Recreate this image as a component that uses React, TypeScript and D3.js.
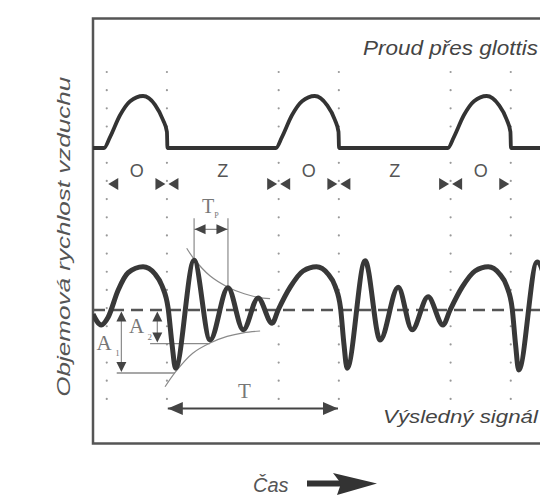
import React from 'react';
import * as d3 from 'd3';

// time in ms (one glottal period = 10 ms), amplitudes in relative units

// upper trace: air flow through the glottis
const glottalFlow: [number, number][] = [
  [-0.8, 0], [-0.16, 0], [0.19, 0.21], [0.77, 0.63], [1.36, 0.9], [2.11, 1], [2.81, 0.83], [3.27, 0.54], [3.5, 0.31], [3.53, 0],
  [9.84, 0], [10.19, 0.21], [10.77, 0.63], [11.36, 0.9], [12.1, 1], [12.8, 0.83], [13.27, 0.54], [13.48, 0.31], [13.51, 0],
  [19.84, 0], [20.19, 0.21], [20.77, 0.63], [21.36, 0.9], [22.1, 1], [22.8, 0.83], [23.27, 0.54], [23.48, 0.31], [23.51, 0],
  [25.6, 0],
];

// lower trace: resulting signal
const outputSignal: [number, number][] = [
  [-0.8, -0.07], [-0.32, -0.25], [0.08, -0.12], [0.66, 0.33], [1.24, 0.62], [2.11, 0.72], [2.81, 0.6], [3.22, 0.4],
  [3.57, 0.03], [3.8, -0.58], [4.0, -0.97], [5.08, 0.83], [6.01, -0.5], [7.05, 0.37], [7.94, -0.33], [8.8, 0.2],
  [9.62, -0.22], [9.97, 0], [10.67, 0.38], [11.42, 0.65], [12.2, 0.72], [12.87, 0.6], [13.28, 0.4], [13.6, 0.03],
  [13.8, -0.58], [13.98, -0.97], [15.03, 0.82], [15.9, -0.5], [16.95, 0.38], [17.76, -0.33], [18.69, 0.22],
  [19.56, -0.25], [19.97, 0], [20.67, 0.38], [21.42, 0.65], [22.19, 0.72], [22.85, 0.6], [23.26, 0.4], [23.58, 0.03],
  [23.78, -0.58], [23.96, -1.0], [25.03, 0.8], [25.6, 0.4],
];

const envelopeUpper: [number, number][] = [[4.65, 1.03], [5.08, 0.85], [6.0, 0.57], [7.05, 0.38], [8.0, 0.27], [8.8, 0.21], [9.5, 0.19]];
const envelopeLower: [number, number][] = [[3.39, -1.28], [4.0, -1.03], [5.0, -0.72], [6.01, -0.55], [7.0, -0.44], [7.94, -0.38], [8.92, -0.35]];

const gridTimes = [0, 3.5, 10, 13.5, 20, 23.5];

const phases = [
  { label: 'O', from: 0, to: 3.5 },
  { label: 'Z', from: 3.5, to: 10 },
  { label: 'O', from: 10, to: 13.5 },
  { label: 'Z', from: 13.5, to: 20 },
  { label: 'O', from: 20, to: 23.5 },
];

// annotation values
const a1 = { t: 0.85, level: -1.05, lineFrom: 0.58, lineTo: 3.97 };
const a2 = { t: 2.94, level: -0.56, lineFrom: 2.52, lineTo: 6.01 };
const tp = { from: 5.08, to: 7.05, level: 1.345, top: 1.53, peaks: [0.83, 0.37] };
const period = { from: 3.55, to: 13.45, level: -1.64 };

const sans = '"Liberation Sans", Arial, sans-serif';
const serif = '"Liberation Serif", "Times New Roman", serif';

const head = (tx: number, ty: number, dx: number, dy: number, len: number, half: number) => {
  const bx = tx - dx * len, by = ty - dy * len;
  const p = d3.path();
  p.moveTo(tx, ty);
  p.lineTo(bx - dy * half, by + dx * half);
  p.lineTo(bx + dy * half, by - dx * half);
  p.closePath();
  return p.toString();
};

export default function App() {
  const x = d3.scaleLinear().domain([-0.8, 25.2]).range([93, 540]);
  const yTop = d3.scaleLinear().domain([0, 1]).range([148, 96]);
  const yBot = d3.scaleLinear().domain([-1, 1]).range([370, 250]);

  const topLine = d3.line<[number, number]>().x(d => x(d[0])).y(d => yTop(d[1])).curve(d3.curveMonotoneX);
  const botLine = d3.line<[number, number]>().x(d => x(d[0])).y(d => yBot(d[1])).curve(d3.curveMonotoneX);
  const envLine = d3.line<[number, number]>().x(d => x(d[0])).y(d => yBot(d[1])).curve(d3.curveCatmullRom);

  const thin = '#8a8a8a';
  const dark = '#444';

  // arrow next to "Čas"
  const casArrow = d3.path();
  casArrow.moveTo(333, 473); casArrow.lineTo(377, 483.5); casArrow.lineTo(337, 495); casArrow.lineTo(341, 483.5); casArrow.closePath();

  return (
    <svg width={540} height={498} style={{ position: 'absolute', left: 0, top: 0, background: '#fff' }}>
      <defs>
        <clipPath id="plot"><rect x={93} y={18} width={460} height={426} /></clipPath>
      </defs>

      {/* dotted grid */}
      {gridTimes.map(t => (
        <line key={t} x1={x(t)} x2={x(t)} y1={72} y2={417} stroke="#999" strokeWidth={2.2}
          strokeDasharray="0 18.16" strokeLinecap="round" />
      ))}

      {/* frame */}
      <path d="M560,18.5H93V443.5H560" fill="none" stroke="#555" strokeWidth={2.5} />

      <text x={538} y={54.5} textAnchor="end" fontFamily={sans} fontStyle="italic" fontSize={20} fill="#444"
        textLength={175} lengthAdjust="spacingAndGlyphs">Proud přes glottis</text>

      {/* open / closed phases */}
      {phases.map((p, i) => (
        <g key={i}>
          <text x={x((p.from + p.to) / 2)} y={yTop(-0.56)} textAnchor="middle" fontFamily={sans} fontSize={18} fill="#555">{p.label}</text>
          <path d={head(x(p.from) + 1.5, yTop(-0.69), -1, 0, 10, 6)} fill={dark} />
          <path d={head(x(p.to) - 1.5, yTop(-0.69), 1, 0, 10, 6)} fill={dark} />
        </g>
      ))}

      <g clipPath="url(#plot)">
        <path d={topLine(glottalFlow) ?? ''} fill="none" stroke="#333" strokeWidth={3.8} strokeLinejoin="round" />

        {/* baseline */}
        <line x1={93} x2={540} y1={yBot(0)} y2={yBot(0)} stroke="#555" strokeWidth={2.5} strokeDasharray="12 7" />

        {/* envelopes */}
        <path d={envLine(envelopeUpper) ?? ''} fill="none" stroke={thin} strokeWidth={1.2} />
        <path d={envLine(envelopeLower) ?? ''} fill="none" stroke={thin} strokeWidth={1.2} />

        {/* A1, A2 */}
        <line x1={x(a1.lineFrom)} x2={x(a1.lineTo)} y1={yBot(a1.level)} y2={yBot(a1.level)} stroke={thin} strokeWidth={1.3} />
        <line x1={x(a2.lineFrom)} x2={x(a2.lineTo)} y1={yBot(a2.level)} y2={yBot(a2.level)} stroke={thin} strokeWidth={1.3} />
        {[a1, a2].map((a, i) => (
          <g key={i}>
            <line x1={x(a.t)} x2={x(a.t)} y1={yBot(0) + 4} y2={yBot(a.level) - 4} stroke={thin} strokeWidth={1.2} />
            <path d={head(x(a.t), yBot(0) + 1.5, 0, -1, 10, 5)} fill={dark} />
            <path d={head(x(a.t), yBot(a.level) - 1, 0, 1, 10, 5)} fill={dark} />
          </g>
        ))}

        {/* Tp */}
        <line x1={x(tp.from)} x2={x(tp.from)} y1={yBot(tp.top)} y2={yBot(tp.peaks[0])} stroke={thin} strokeWidth={1.2} />
        <line x1={x(tp.to)} x2={x(tp.to)} y1={yBot(tp.top)} y2={yBot(tp.peaks[1])} stroke={thin} strokeWidth={1.2} />
        <line x1={x(tp.from)} x2={x(tp.to)} y1={yBot(tp.level)} y2={yBot(tp.level)} stroke={thin} strokeWidth={1.2} />
        <path d={head(x(tp.from) + 0.5, yBot(tp.level), -1, 0, 11, 5)} fill={dark} />
        <path d={head(x(tp.to) - 0.5, yBot(tp.level), 1, 0, 11, 5)} fill={dark} />

        {/* T */}
        <line x1={x(period.from)} x2={x(period.to)} y1={yBot(period.level)} y2={yBot(period.level)} stroke={dark} strokeWidth={2} />
        <path d={head(x(period.from), yBot(period.level), -1, 0, 15, 6.5)} fill={dark} />
        <path d={head(x(period.to), yBot(period.level), 1, 0, 15, 6.5)} fill={dark} />

        <path d={botLine(outputSignal) ?? ''} fill="none" stroke="#383838" strokeWidth={5} strokeLinejoin="round" />
      </g>

      {/* labels */}
      <g fontFamily={serif} fill="#777">
        <text x={x(-0.15)} y={yBot(-0.67)} textAnchor="middle" fontSize={21}>A</text>
        <text x={x(0.5)} y={yBot(-0.77)} fontSize={9}>1</text>
        <text x={x(1.73)} y={yBot(-0.38)} textAnchor="middle" fontSize={21}>A</text>
        <text x={x(2.37)} y={yBot(-0.5)} fontSize={9}>2</text>
        <text x={x(5.89)} y={yBot(1.62)} textAnchor="middle" fontSize={20}>T</text>
        <text x={x(6.25)} y={yBot(1.54)} fontSize={8}>P</text>
        <text x={x(8.0)} y={yBot(-1.47)} textAnchor="middle" fontSize={21}>T</text>
      </g>

      <text x={538} y={423} textAnchor="end" fontFamily={sans} fontStyle="italic" fontSize={19} fill="#444"
        textLength={155} lengthAdjust="spacingAndGlyphs">Výsledný signál</text>

      <text transform="translate(70,236.7) rotate(-90)" textAnchor="middle" fontFamily={sans} fontStyle="italic"
        fontSize={18} fill="#555" textLength={320} lengthAdjust="spacingAndGlyphs">Objemová rychlost vzduchu</text>

      <text x={253} y={491.5} fontFamily={sans} fontStyle="italic" fontSize={20} fill="#555">Čas</text>
      <rect x={307} y={480.5} width={36} height={6} fill="#333" />
      <path d={casArrow.toString()} fill="#333" />
    </svg>
  );
}
